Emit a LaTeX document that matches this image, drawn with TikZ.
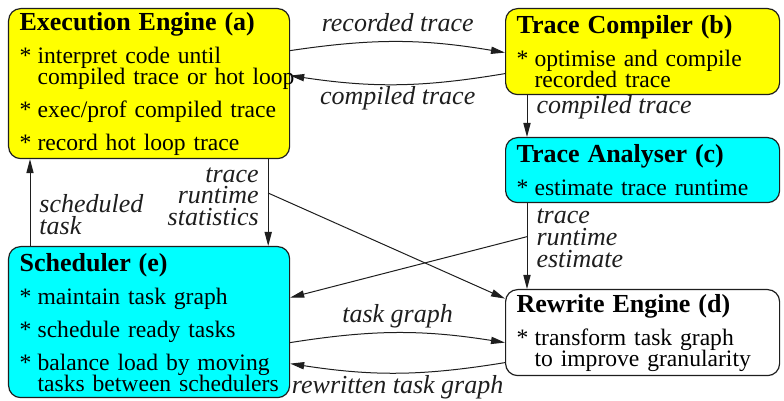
\documentclass[tikz,border=0pt]{standalone}
\usepackage{xcolor}
\usepackage{fontspec}
\setmainfont{Liberation Serif}
\usepackage{tikz}
\usetikzlibrary{arrows.meta}
\definecolor{myyellow}{RGB}{255,255,0}
\definecolor{mycyan}{RGB}{0,255,255}
\definecolor{mydark}{RGB}{30,30,30}
\newcommand\bodyfont{\fontsize{11.8}{10.5}\selectfont\lineskiplimit=-5pt}
\newcommand\lblfont{\fontsize{13}{10.8}\selectfont\itshape\lineskiplimit=-5pt}
\newcommand\ttl[1]{{\fontsize{13}{10.5}\selectfont\bfseries #1}}
\newcommand\itm[1]{\mbox{\makebox[9pt][l]{*}#1}}
\newcommand\cnt[1]{\mbox{\hspace*{9pt}#1}}
\tikzset{
  box/.style={rectangle, draw=mydark, line width=0.6pt, rounded corners=6pt,
    anchor=north west, align=left, inner xsep=5.5pt, inner ysep=0pt,
    font=\bodyfont},
  ybox/.style={box, fill=myyellow},
  cbox/.style={box, fill=mycyan},
  wbox/.style={box, fill=white},
  arrow/.style={-{Triangle[length=7pt,width=3.6pt]}, line width=0.5pt, color=mydark},
  lbl/.style={font=\lblfont, inner sep=4.5pt},
  lblup/.style={lbl, anchor=base, yshift=5pt},
  lbldown/.style={lbl, anchor=base, yshift=-10.25pt}
}
\begin{document}
\begin{tikzpicture}[x=0.5pt, y=-0.5pt]
  \useasboundingbox (0,0) rectangle (784,401);
  % Boxes
  \node[ybox, text width=129.5pt, minimum height=75pt] (a) at (8,8)
    {\ttl{Execution Engine (a)}\\[6pt]
     \itm{interpret code until}\\
     \cnt{compiled trace or hot loop}\\[6pt]
     \itm{exec/prof compiled trace}\\[6pt]
     \itm{record hot loop trace}};
  \node[ybox, text width=126pt, minimum height=43pt] (b) at (505,8)
    {\ttl{Trace Compiler (b)}\\[6pt]
     \itm{optimise and compile}\\
     \cnt{recorded trace}};
  \node[cbox, text width=126pt, minimum height=32.5pt] (c) at (505,137)
    {\ttl{Trace Analyser (c)}\\[6pt]
     \itm{estimate trace runtime}};
  \node[wbox, text width=126pt, minimum height=43pt] (d) at (505,289)
    {\ttl{Rewrite Engine (d)}\\[6pt]
     \itm{transform task graph}\\
     \cnt{to improve granularity}};
  \node[cbox, text width=129.5pt, minimum height=75.5pt] (e) at (8,246)
    {\ttl{Scheduler (e)}\\[6pt]
     \itm{maintain task graph}\\[6pt]
     \itm{schedule ready tasks}\\[6pt]
     \itm{balance load by moving}\\
     \cnt{tasks between schedulers}};
  % Trace loop
  \draw[arrow] ([yshift=16.5pt]a.east) to[bend left=9]
    node[lblup] {recorded trace} ([yshift=-0.5pt]b.west);
  \draw[arrow] ([yshift=-11pt]b.west) to[bend left=9]
    node[lbldown] {compiled trace} ([yshift=4pt]a.east);
  \draw[arrow] ([xshift=11pt]b.south west) --
    node[lbl, right, pos=0.3] {compiled trace} ([xshift=11pt]c.north west);
  % Statistics and estimates
  \draw[arrow] ([xshift=-11pt]a.south east) --
    coordinate[pos=0.39] (ts)
    node[lbl, left, align=right, pos=0.43] {trace\\runtime\\statistics}
    ([xshift=-11pt]e.north east);
  \draw[arrow] (ts) -- ([yshift=17pt]d.west);
  \draw[arrow] ([xshift=11pt]c.south west) --
    coordinate[pos=0.39] (te)
    node[lbl, right, align=left, pos=0.41] {trace\\runtime\\estimate}
    ([xshift=11pt]d.north west);
  \draw[arrow] (te) -- ([yshift=12.25pt]e.east);
  % Scheduling
  \draw[arrow] ([xshift=11pt]e.north west) --
    node[lbl, right, align=left, pos=0.36] {scheduled\\task}
    ([xshift=11pt]a.south west);
  \draw[arrow] ([yshift=-10.25pt]e.east) to[bend left=9]
    node[lblup] {task graph} ([yshift=-5pt]d.west);
  \draw[arrow] ([yshift=-15pt]d.west) to[bend left=9]
    node[lbldown] {rewritten task graph} ([yshift=-20.75pt]e.east);
\end{tikzpicture}
\end{document}
